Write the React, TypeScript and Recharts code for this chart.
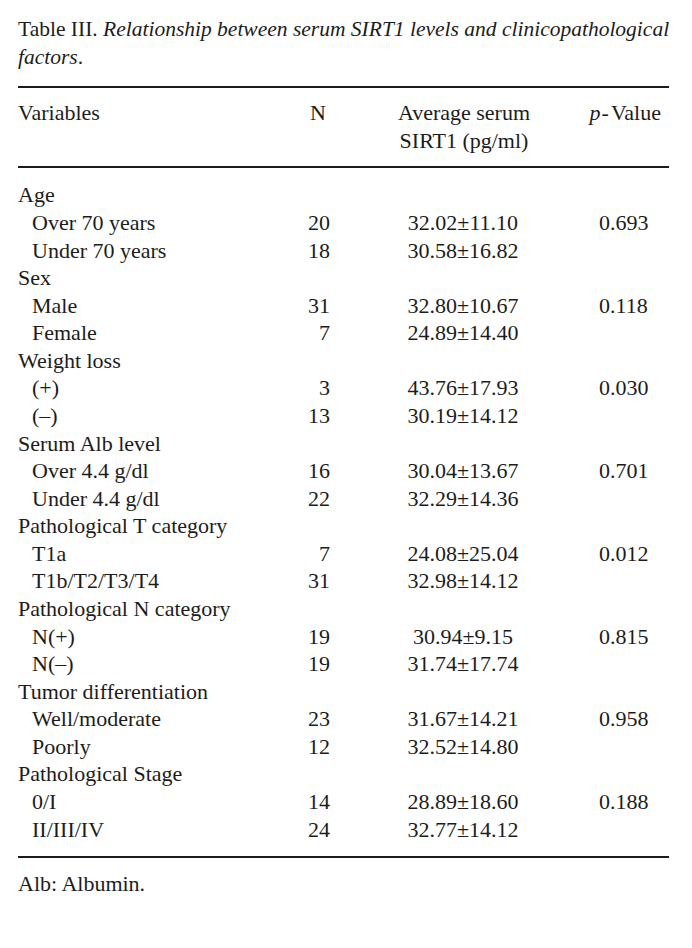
import React from "react";
import { BarChart, XAxis, YAxis } from "recharts";

const groupNames = [
  "Age",
  "Sex",
  "Weight loss",
  "Serum Alb level",
  "Pathological T category",
  "Pathological N category",
  "Tumor differentiation",
  "Pathological Stage",
];
const subLabels = [
  ["Over 70 years", "Under 70 years"],
  ["Male", "Female"],
  ["(+)", "(–)"],
  ["Over 4.4 g/dl", "Under 4.4 g/dl"],
  ["T1a", "T1b/T2/T3/T4"],
  ["N(+)", "N(–)"],
  ["Well/moderate", "Poorly"],
  ["0/I", "II/III/IV"],
];
const nValues = [[20, 18], [31, 7], [3, 13], [16, 22], [7, 31], [19, 19], [23, 12], [14, 24]];
const meanValues = [[32.02, 30.58], [32.8, 24.89], [43.76, 30.19], [30.04, 32.29], [24.08, 32.98], [30.94, 31.74], [31.67, 32.52], [28.89, 32.77]];
const sdValues = [[11.1, 16.82], [10.67, 14.4], [17.93, 14.12], [13.67, 14.36], [25.04, 14.12], [9.15, 17.74], [14.21, 14.8], [18.6, 14.12]];
const pValues = [0.693, 0.118, 0.03, 0.701, 0.012, 0.815, 0.958, 0.188];

type Row = { key: string; label: string; group: boolean; n?: number; avg?: string; p?: string };

const rows: Row[] = [];
groupNames.forEach((g, gi) => {
  rows.push({ key: "g" + gi, label: g, group: true });
  subLabels[gi].forEach((s, si) => {
    rows.push({
      key: "s" + gi + "_" + si,
      label: s,
      group: false,
      n: nValues[gi][si],
      avg: meanValues[gi][si].toFixed(2) + "±" + sdValues[gi][si].toFixed(2),
      p: si === 0 ? pValues[gi].toFixed(3) : undefined,
    });
  });
});

const FONT = "'Liberation Serif', 'Times New Roman', serif";
const FS = 22;
const TITLE_FS = 21.5;
const INK = "#1c1c1c";
const X_LEFT = 18;
const X_INDENT = 32;
const X_N = 330;
const X_AVG = 463;
const X_P = 599;
const RULE_X1 = 18;
const RULE_X2 = 669;

const RowTick = (props: any) => {
  const { y, payload } = props;
  const row = rows[payload.index];
  if (!row) return null;
  const by = y + 6.5;
  return (
    <g fontFamily={FONT} fontSize={FS} fill={INK}>
      <text x={row.group ? X_LEFT : X_INDENT} y={by}>{row.label}</text>
      {row.n !== undefined && (
        <text x={X_N} y={by} textAnchor="end">{row.n}</text>
      )}
      {row.avg && (
        <text x={X_AVG} y={by} textAnchor="middle">{row.avg}</text>
      )}
      {row.p && <text x={X_P} y={by}>{row.p}</text>}
    </g>
  );
};

export default function App() {
  return (
    <div style={{ position: "absolute", left: 0, top: 0, background: "#fff" }}>
      <BarChart
        width={692}
        height={948}
        layout="vertical"
        data={rows}
        margin={{ top: 182.2, bottom: 104.2, left: 0, right: 0 }}
      >
        <XAxis type="number" hide />
        <YAxis
          type="category"
          dataKey="key"
          width={1}
          axisLine={false}
          tickLine={false}
          interval={0}
          tick={<RowTick />}
        />
        <g fontFamily={FONT} fill={INK}>
          <text x={X_LEFT} y={36} fontSize={TITLE_FS}>
            <tspan>Table III. </tspan>
            <tspan fontStyle="italic">Relationship between serum SIRT1 levels and clinicopathological</tspan>
          </text>
          <text x={X_LEFT} y={64} fontSize={TITLE_FS}>
            <tspan fontStyle="italic">factors</tspan>
            <tspan>.</tspan>
          </text>
          <g fontSize={FS}>
            <text x={X_LEFT} y={120}>Variables</text>
            <text x={X_N - 4} y={120} textAnchor="end">N</text>
            <text x={X_AVG + 1} y={120} textAnchor="middle">Average serum</text>
            <text x={X_AVG + 1} y={148} textAnchor="middle">SIRT1 (pg/ml)</text>
            <text x={661} y={120} textAnchor="end">
              <tspan fontStyle="italic">p</tspan>
              <tspan dx={1}>-</tspan>
              <tspan dx={2}>Value</tspan>
            </text>
            <text x={X_LEFT} y={891}>Alb: Albumin.</text>
          </g>
        </g>
        <line x1={RULE_X1} x2={RULE_X2} y1={87} y2={87} stroke={INK} strokeWidth={1.8} />
        <line x1={RULE_X1} x2={RULE_X2} y1={167} y2={167} stroke={INK} strokeWidth={1.8} />
        <line x1={RULE_X1} x2={RULE_X2} y1={857} y2={857} stroke={INK} strokeWidth={1.8} />
      </BarChart>
    </div>
  );
}
